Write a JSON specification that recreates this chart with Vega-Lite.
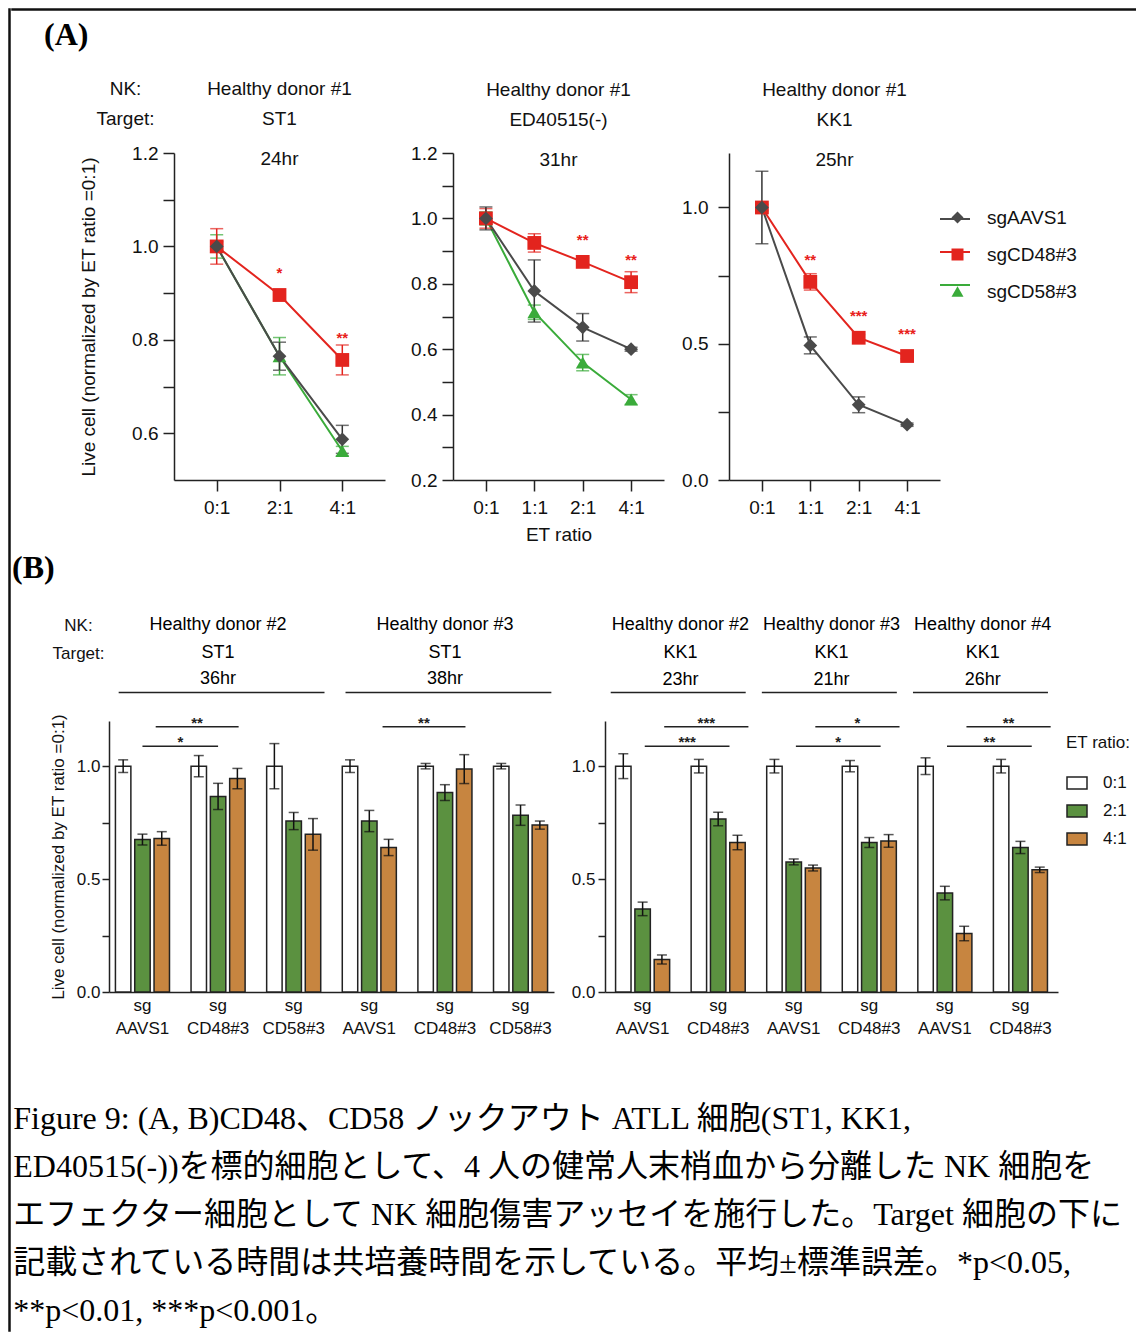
{
  "$schema": "https://vega.github.io/schema/vega-lite/v6.json",
  "padding": {"left": 8, "top": 8, "right": 0, "bottom": 0},
  "background": "white",
  "config": {
    "font": "Liberation Sans",
    "view": {"stroke": null},
    "axis": {"grid": false, "domainColor": "#222", "domainWidth": 1.5, "tickColor": "#222", "tickWidth": 1.5, "labelColor": "#111", "titleColor": "#111", "titleFontWeight": "normal", "labelFont": "Liberation Sans", "titleFont": "Liberation Sans"},
    "title": {"font": "Liberation Sans", "fontWeight": "normal", "color": "#111", "subtitleColor": "#111", "subtitleFont": "Liberation Sans"},
    "legend": {"labelFont": "Liberation Sans", "titleFont": "Liberation Sans", "labelColor": "#111", "titleColor": "#111"}
  },
  "datasets": {
    "lineA": [
      {"p": "A1", "c": "sgCD58#3", "r": "0:1", "m": 1.0, "e": 0.025},
      {"p": "A1", "c": "sgCD58#3", "r": "2:1", "m": 0.765, "e": 0.04},
      {"p": "A1", "c": "sgCD58#3", "r": "4:1", "m": 0.562, "e": 0.01},
      {"p": "A1", "c": "sgCD48#3", "r": "0:1", "m": 1.0, "e": 0.038},
      {"p": "A1", "c": "sgCD48#3", "r": "2:1", "m": 0.896, "e": 0.012, "s": "*"},
      {"p": "A1", "c": "sgCD48#3", "r": "4:1", "m": 0.757, "e": 0.032, "s": "**"},
      {"p": "A1", "c": "sgAAVS1", "r": "0:1", "m": 1.0, "e": 0.01},
      {"p": "A1", "c": "sgAAVS1", "r": "2:1", "m": 0.765, "e": 0.03},
      {"p": "A1", "c": "sgAAVS1", "r": "4:1", "m": 0.587, "e": 0.03},
      {"p": "A2", "c": "sgCD58#3", "r": "0:1", "m": 1.0, "e": 0.02},
      {"p": "A2", "c": "sgCD58#3", "r": "1:1", "m": 0.713, "e": 0.022},
      {"p": "A2", "c": "sgCD58#3", "r": "2:1", "m": 0.559, "e": 0.025},
      {"p": "A2", "c": "sgCD58#3", "r": "4:1", "m": 0.446, "e": 0.015},
      {"p": "A2", "c": "sgCD48#3", "r": "0:1", "m": 1.0, "e": 0.03},
      {"p": "A2", "c": "sgCD48#3", "r": "1:1", "m": 0.925, "e": 0.028},
      {"p": "A2", "c": "sgCD48#3", "r": "2:1", "m": 0.867, "e": 0.012, "s": "**"},
      {"p": "A2", "c": "sgCD48#3", "r": "4:1", "m": 0.805, "e": 0.032, "s": "**"},
      {"p": "A2", "c": "sgAAVS1", "r": "0:1", "m": 1.0, "e": 0.035},
      {"p": "A2", "c": "sgAAVS1", "r": "1:1", "m": 0.778, "e": 0.095},
      {"p": "A2", "c": "sgAAVS1", "r": "2:1", "m": 0.667, "e": 0.042},
      {"p": "A2", "c": "sgAAVS1", "r": "4:1", "m": 0.6, "e": 0.006},
      {"p": "A3", "c": "sgCD48#3", "r": "0:1", "m": 1.0, "e": 0.012},
      {"p": "A3", "c": "sgCD48#3", "r": "1:1", "m": 0.727, "e": 0.03, "s": "**"},
      {"p": "A3", "c": "sgCD48#3", "r": "2:1", "m": 0.522, "e": 0.012, "s": "***"},
      {"p": "A3", "c": "sgCD48#3", "r": "4:1", "m": 0.455, "e": 0.01, "s": "***"},
      {"p": "A3", "c": "sgAAVS1", "r": "0:1", "m": 1.0, "e": 0.133},
      {"p": "A3", "c": "sgAAVS1", "r": "1:1", "m": 0.494, "e": 0.031},
      {"p": "A3", "c": "sgAAVS1", "r": "2:1", "m": 0.276, "e": 0.029},
      {"p": "A3", "c": "sgAAVS1", "r": "4:1", "m": 0.203, "e": 0.006}
    ],
    "barB": [
      {"p": "B1", "k": "2|AAVS1", "r": "0:1", "m": 1.0, "e": 0.028},
      {"p": "B1", "k": "2|AAVS1", "r": "2:1", "m": 0.675, "e": 0.024},
      {"p": "B1", "k": "2|AAVS1", "r": "4:1", "m": 0.68, "e": 0.03},
      {"p": "B1", "k": "2|CD48#3", "r": "0:1", "m": 1.0, "e": 0.047},
      {"p": "B1", "k": "2|CD48#3", "r": "2:1", "m": 0.866, "e": 0.058},
      {"p": "B1", "k": "2|CD48#3", "r": "4:1", "m": 0.945, "e": 0.045},
      {"p": "B1", "k": "2|CD58#3", "r": "0:1", "m": 1.0, "e": 0.1},
      {"p": "B1", "k": "2|CD58#3", "r": "2:1", "m": 0.757, "e": 0.038},
      {"p": "B1", "k": "2|CD58#3", "r": "4:1", "m": 0.698, "e": 0.07},
      {"p": "B1", "k": "3|AAVS1", "r": "0:1", "m": 1.0, "e": 0.028},
      {"p": "B1", "k": "3|AAVS1", "r": "2:1", "m": 0.757, "e": 0.047},
      {"p": "B1", "k": "3|AAVS1", "r": "4:1", "m": 0.64, "e": 0.036},
      {"p": "B1", "k": "3|CD48#3", "r": "0:1", "m": 1.0, "e": 0.012},
      {"p": "B1", "k": "3|CD48#3", "r": "2:1", "m": 0.883, "e": 0.035},
      {"p": "B1", "k": "3|CD48#3", "r": "4:1", "m": 0.987, "e": 0.064},
      {"p": "B1", "k": "3|CD58#3", "r": "0:1", "m": 1.0, "e": 0.012},
      {"p": "B1", "k": "3|CD58#3", "r": "2:1", "m": 0.783, "e": 0.045},
      {"p": "B1", "k": "3|CD58#3", "r": "4:1", "m": 0.739, "e": 0.018},
      {"p": "B2", "k": "2|AAVS1", "r": "0:1", "m": 1.0, "e": 0.055},
      {"p": "B2", "k": "2|AAVS1", "r": "2:1", "m": 0.368, "e": 0.03},
      {"p": "B2", "k": "2|AAVS1", "r": "4:1", "m": 0.144, "e": 0.02},
      {"p": "B2", "k": "2|CD48#3", "r": "0:1", "m": 1.0, "e": 0.03},
      {"p": "B2", "k": "2|CD48#3", "r": "2:1", "m": 0.766, "e": 0.03},
      {"p": "B2", "k": "2|CD48#3", "r": "4:1", "m": 0.662, "e": 0.032},
      {"p": "B2", "k": "3|AAVS1", "r": "0:1", "m": 1.0, "e": 0.03},
      {"p": "B2", "k": "3|AAVS1", "r": "2:1", "m": 0.576, "e": 0.013},
      {"p": "B2", "k": "3|AAVS1", "r": "4:1", "m": 0.549, "e": 0.013},
      {"p": "B2", "k": "3|CD48#3", "r": "0:1", "m": 1.0, "e": 0.025},
      {"p": "B2", "k": "3|CD48#3", "r": "2:1", "m": 0.662, "e": 0.022},
      {"p": "B2", "k": "3|CD48#3", "r": "4:1", "m": 0.669, "e": 0.028},
      {"p": "B2", "k": "4|AAVS1", "r": "0:1", "m": 1.0, "e": 0.037},
      {"p": "B2", "k": "4|AAVS1", "r": "2:1", "m": 0.438, "e": 0.03},
      {"p": "B2", "k": "4|AAVS1", "r": "4:1", "m": 0.259, "e": 0.032},
      {"p": "B2", "k": "4|CD48#3", "r": "0:1", "m": 1.0, "e": 0.03},
      {"p": "B2", "k": "4|CD48#3", "r": "2:1", "m": 0.64, "e": 0.027},
      {"p": "B2", "k": "4|CD48#3", "r": "4:1", "m": 0.541, "e": 0.012}
    ],
    "headB": [
      {"p": "B1", "first": "2|AAVS1", "mid": "2|CD48#3", "last": "2|CD58#3", "donor": "Healthy donor #2", "target": "ST1", "hr": "36hr"},
      {"p": "B1", "first": "3|AAVS1", "mid": "3|CD48#3", "last": "3|CD58#3", "donor": "Healthy donor #3", "target": "ST1", "hr": "38hr"},
      {"p": "B2", "first": "2|AAVS1", "last": "2|CD48#3", "donor": "Healthy donor #2", "target": "KK1", "hr": "23hr"},
      {"p": "B2", "first": "3|AAVS1", "last": "3|CD48#3", "donor": "Healthy donor #3", "target": "KK1", "hr": "21hr"},
      {"p": "B2", "first": "4|AAVS1", "last": "4|CD48#3", "donor": "Healthy donor #4", "target": "KK1", "hr": "26hr"}
    ],
    "sigB": [
      {"p": "B1", "r": "2:1", "g1": "2|AAVS1", "g2": "2|CD48#3", "s": "*"},
      {"p": "B1", "r": "4:1", "g1": "2|AAVS1", "g2": "2|CD48#3", "s": "**"},
      {"p": "B1", "r": "4:1", "g1": "3|AAVS1", "g2": "3|CD48#3", "s": "**"},
      {"p": "B2", "r": "2:1", "g1": "2|AAVS1", "g2": "2|CD48#3", "s": "***"},
      {"p": "B2", "r": "4:1", "g1": "2|AAVS1", "g2": "2|CD48#3", "s": "***"},
      {"p": "B2", "r": "2:1", "g1": "3|AAVS1", "g2": "3|CD48#3", "s": "*"},
      {"p": "B2", "r": "4:1", "g1": "3|AAVS1", "g2": "3|CD48#3", "s": "*"},
      {"p": "B2", "r": "2:1", "g1": "4|AAVS1", "g2": "4|CD48#3", "s": "**"},
      {"p": "B2", "r": "4:1", "g1": "4|AAVS1", "g2": "4|CD48#3", "s": "**"}
    ]
  },
  "spacing": 0,
  "resolve": {"scale": {"color": "independent", "shape": "independent", "fill": "independent", "stroke": "independent"}},
  "hconcat": [
    {"width": 1, "height": 1322, "data": {"values": []}, "mark": {"type": "rule"}, "encoding": {}, "view": {"stroke": "#111", "strokeWidth": 1.5}},
    {
      "spacing": 8,
      "resolve": {"scale": {"color": "independent", "shape": "independent", "fill": "independent", "stroke": "independent"}},
      "title": {
        "text": [
          "Figure 9: (A, B)CD48、CD58 ノックアウト ATLL 細胞(ST1, KK1,",
          "ED40515(-))を標的細胞として、4 人の健常人末梢血から分離した NK 細胞を",
          "エフェクター細胞として NK 細胞傷害アッセイを施行した。Target 細胞の下に",
          "記載されている時間は共培養時間を示している。平均±標準誤差。*p<0.05,",
          "**p<0.01, ***p<0.001。"
        ],
        "orient": "bottom", "anchor": "start", "frame": "bounds",
        "font": "'Liberation Serif', 'Noto Sans CJK JP', serif", "fontSize": 32, "lineHeight": 48,
        "fontWeight": "normal", "color": "#000", "offset": 68, "dx": 2
      },
      "vconcat": [
        {"width": 1130, "height": 1, "data": {"values": []}, "mark": {"type": "rule"}, "encoding": {}, "view": {"stroke": "#111", "strokeWidth": 1.5}},
        {
          "spacing": 25,
          "title": {"text": "(A)", "anchor": "start", "frame": "bounds", "dx": 32, "offset": 27, "font": "Liberation Serif", "fontSize": 32, "fontWeight": "bold", "color": "#000"},
          "resolve": {"scale": {"color": "independent", "shape": "independent", "fill": "independent", "stroke": "independent"}},
          "hconcat": [
            {"width": 42, "height": 1, "data": {"values": []}, "mark": {"type": "rule"}, "encoding": {}},
            {
              "width": 211, "height": 327,
              "data": {"name": "lineA"},
              "transform": [{"filter": "datum.p === 'A1'"}],
              "title": {"text": ["Healthy donor #1", "ST1"], "subtitle": "24hr", "fontSize": 19, "subtitleFontSize": 19, "lineHeight": 30, "subtitlePadding": 21, "offset": -90, "frame": "group"},
              "encoding": {
                "x": {"field": "r", "type": "ordinal", "scale": {"type": "point", "padding": 0.68, "domain": ["0:1", "2:1", "4:1"]},
                  "axis": {"title": ["NK:", "Target:"], "titleX": -49, "titleY": -401, "titleAlign": "center", "titleBaseline": "top", "titleAngle": 0, "titleLineHeight": 30, "titleFontSize": 19, "labelAngle": 0, "labelFontSize": 19, "tickSize": 11, "labelPadding": 7}},
                "y": {"field": "m", "type": "quantitative", "scale": {"domain": [0.5, 1.2], "nice": false, "zero": false},
                  "axis": {"title": "Live cell (normalized by ET ratio =0:1)", "titleFontSize": 19, "titlePadding": 33, "values": [0.6, 0.7, 0.8, 0.9, 1.0, 1.1, 1.2], "format": ".1f", "labelExpr": "round(datum.value*10) % 2 === 0 ? datum.label : ''", "labelFontSize": 19, "tickSize": 11, "labelPadding": 5}}
              },
              "layer": [
                {"mark": {"type": "line", "strokeWidth": 2}, "encoding": {"stroke": {"field": "c", "type": "nominal", "scale": {"domain": ["sgAAVS1", "sgCD48#3", "sgCD58#3"], "range": ["#4a4a4a", "#e3241e", "#3aab3a"]}, "legend": null}}},
                {"mark": {"type": "errorbar", "ticks": true, "size": 13, "thickness": 1.5}, "encoding": {"yError": {"field": "e"}, "color": {"field": "c", "type": "nominal", "scale": {"domain": ["sgAAVS1", "sgCD48#3", "sgCD58#3"], "range": ["#333333", "#e3241e", "#3aab3a"]}, "legend": null}}},
                {"mark": {"type": "point", "filled": true, "opacity": 1, "size": 190}, "encoding": {
                  "fill": {"field": "c", "type": "nominal", "scale": {"domain": ["sgAAVS1", "sgCD48#3", "sgCD58#3"], "range": ["#4a4a4a", "#e3241e", "#3aab3a"]}, "legend": null},
                  "shape": {"field": "c", "type": "nominal", "scale": {"domain": ["sgAAVS1", "sgCD48#3", "sgCD58#3"], "range": ["diamond", "square", "triangle-up"]}, "legend": null}}},
                {"transform": [{"filter": "datum.s"}], "mark": {"type": "text", "color": "#e8201a", "fontSize": 15, "fontWeight": "bold", "dy": -17, "baseline": "alphabetic"}, "encoding": {"text": {"field": "s"}}}
              ]
            },
            {
              "spacing": 17,
              "resolve": {"scale": {"color": "independent", "shape": "independent", "fill": "independent", "stroke": "independent"}},
              "hconcat": [
                {
                  "width": 211, "height": 327,
                  "data": {"name": "lineA"},
                  "transform": [{"filter": "datum.p === 'A2'"}],
                  "title": {"text": ["Healthy donor #1", "ED40515(-)"], "subtitle": "31hr", "fontSize": 19, "subtitleFontSize": 19, "lineHeight": 30, "subtitlePadding": 21, "offset": -26, "frame": "group"},
                  "encoding": {
                    "x": {"field": "r", "type": "ordinal", "scale": {"type": "point", "padding": 0.68, "domain": ["0:1", "1:1", "2:1", "4:1"]},
                      "axis": {"title": "ET ratio", "titleFontSize": 19, "titlePadding": 8, "labelAngle": 0, "labelFontSize": 19, "tickSize": 11, "labelPadding": 7}},
                    "y": {"field": "m", "type": "quantitative", "scale": {"domain": [0.2, 1.2], "nice": false, "zero": false},
                      "axis": {"title": null, "values": [0.2, 0.3, 0.4, 0.5, 0.6, 0.7, 0.8, 0.9, 1.0, 1.1, 1.2], "format": ".1f", "labelExpr": "round(datum.value*10) % 2 === 0 ? datum.label : ''", "labelFontSize": 19, "tickSize": 11, "labelPadding": 5}}
                  },
                  "layer": [
                    {"mark": {"type": "line", "strokeWidth": 2}, "encoding": {"stroke": {"field": "c", "type": "nominal", "scale": {"domain": ["sgAAVS1", "sgCD48#3", "sgCD58#3"], "range": ["#4a4a4a", "#e3241e", "#3aab3a"]}, "legend": null}}},
                    {"mark": {"type": "errorbar", "ticks": true, "size": 13, "thickness": 1.5}, "encoding": {"yError": {"field": "e"}, "color": {"field": "c", "type": "nominal", "scale": {"domain": ["sgAAVS1", "sgCD48#3", "sgCD58#3"], "range": ["#333333", "#e3241e", "#3aab3a"]}, "legend": null}}},
                    {"mark": {"type": "point", "filled": true, "opacity": 1, "size": 190}, "encoding": {
                      "fill": {"field": "c", "type": "nominal", "scale": {"domain": ["sgAAVS1", "sgCD48#3", "sgCD58#3"], "range": ["#4a4a4a", "#e3241e", "#3aab3a"]}, "legend": null},
                      "shape": {"field": "c", "type": "nominal", "scale": {"domain": ["sgAAVS1", "sgCD48#3", "sgCD58#3"], "range": ["diamond", "square", "triangle-up"]}, "legend": null}}},
                    {"transform": [{"filter": "datum.s"}], "mark": {"type": "text", "color": "#e8201a", "fontSize": 15, "fontWeight": "bold", "dy": -17, "baseline": "alphabetic"}, "encoding": {"text": {"field": "s"}}}
                  ]
                },
                {
                  "width": 211, "height": 327,
                  "data": {"name": "lineA"},
                  "transform": [{"filter": "datum.p === 'A3'"}],
                  "title": {"text": ["Healthy donor #1", "KK1"], "subtitle": "25hr", "fontSize": 19, "subtitleFontSize": 19, "lineHeight": 30, "subtitlePadding": 21, "offset": -17, "frame": "group"},
                  "encoding": {
                    "x": {"field": "r", "type": "ordinal", "scale": {"type": "point", "padding": 0.68, "domain": ["0:1", "1:1", "2:1", "4:1"]},
                      "axis": {"title": null, "labelAngle": 0, "labelFontSize": 19, "tickSize": 11, "labelPadding": 7}},
                    "y": {"field": "m", "type": "quantitative", "scale": {"domain": [0, 1.2], "nice": false, "zero": false},
                      "axis": {"title": null, "values": [0, 0.25, 0.5, 0.75, 1.0], "format": ".1f", "labelExpr": "(datum.value*4) % 2 === 0 ? datum.label : ''", "labelFontSize": 19, "tickSize": 11, "labelPadding": 10}}
                  },
                  "layer": [
                    {"mark": {"type": "line", "strokeWidth": 2}, "encoding": {"stroke": {"field": "c", "type": "nominal", "scale": {"domain": ["sgCD48#3", "sgAAVS1", "sgCD58#3"], "range": ["#e3241e", "#4a4a4a", "#3aab3a"]},
                      "legend": {"orient": "none", "legendX": 210, "legendY": 50, "title": null, "padding": 0, "values": ["sgAAVS1", "sgCD48#3", "sgCD58#3"], "symbolType": "stroke", "symbolSize": 900, "symbolStrokeWidth": 2, "labelFontSize": 19, "labelOffset": 11, "labelOpacity": 0, "rowPadding": 7}}}},
                    {"mark": {"type": "errorbar", "ticks": true, "size": 13, "thickness": 1.5}, "encoding": {"yError": {"field": "e"}, "color": {"field": "c", "type": "nominal", "scale": {"domain": ["sgCD58#3", "sgCD48#3", "sgAAVS1"], "range": ["#3aab3a", "#e3241e", "#333333"]}, "legend": null}}},
                    {"mark": {"type": "point", "filled": true, "opacity": 1, "size": 190}, "encoding": {
                      "fill": {"field": "c", "type": "nominal", "scale": {"domain": ["sgAAVS1", "sgCD48#3", "sgCD58#3"], "range": ["#4a4a4a", "#e3241e", "#3aab3a"]},
                        "legend": {"orient": "none", "legendX": 219, "legendY": 55, "title": null, "padding": 0, "labelFontSize": 19, "labelOffset": 20, "symbolSize": 144, "rowPadding": 17}},
                      "shape": {"field": "c", "type": "nominal", "scale": {"domain": ["sgAAVS1", "sgCD48#3", "sgCD58#3"], "range": ["diamond", "square", "triangle-up"]},
                        "legend": {"orient": "none", "legendX": 219, "legendY": 55, "title": null, "padding": 0, "labelFontSize": 19, "labelOffset": 20, "symbolSize": 144, "rowPadding": 17}}}},
                    {"transform": [{"filter": "datum.s"}], "mark": {"type": "text", "color": "#e8201a", "fontSize": 15, "fontWeight": "bold", "dy": -17, "baseline": "alphabetic"}, "encoding": {"text": {"field": "s"}}}
                  ]
                }
              ]
            }
          ]
        },
        {
          "spacing": 17,
          "title": {"text": "(B)", "anchor": "start", "frame": "bounds", "dx": 0, "offset": 31, "font": "Liberation Serif", "fontSize": 32, "fontWeight": "bold", "color": "#000"},
          "resolve": {"scale": {"fill": "independent"}},
          "hconcat": [
            {"width": 20, "height": 1, "data": {"values": []}, "mark": {"type": "rule"}, "encoding": {}},
            {
              "width": 445, "height": 271,
              "layer": [
                {"data": {"name": "barB"}, "transform": [{"filter": "datum.p === 'B1'"}],
                  "mark": {"type": "bar", "stroke": "#222", "strokeWidth": 1.5},
                  "encoding": {
                    "x": {"field": "k", "type": "nominal", "scale": {"domain": ["2|AAVS1", "2|CD48#3", "2|CD58#3", "3|AAVS1", "3|CD48#3", "3|CD58#3"], "paddingInner": 0.285, "paddingOuter": 0.085},
                      "axis": {"title": ["NK:", "Target:"], "titleX": -31, "titleY": -375, "titleAlign": "center", "titleBaseline": "top", "titleAngle": 0, "titleLineHeight": 28, "titleFontSize": 17, "ticks": false, "labelAngle": 0, "labelFontSize": 17, "labelPadding": 5, "labelLineHeight": 23, "labelExpr": "['sg', split(datum.value, '|')[1]]"}},
                    "xOffset": {"field": "r", "type": "nominal", "scale": {"domain": ["0:1", "2:1", "4:1"], "paddingInner": 0.2, "paddingOuter": 0}},
                    "y": {"field": "m", "type": "quantitative", "scale": {"domain": [0, 1.2], "nice": false},
                      "axis": {"title": "Live cell (normalized by ET ratio =0:1)", "titleFontSize": 17, "titlePadding": 9, "values": [0, 0.25, 0.5, 0.75, 1.0], "format": ".1f", "labelExpr": "(datum.value*4) % 2 === 0 ? datum.label : ''", "labelFontSize": 17, "tickSize": 7, "labelPadding": 2}},
                    "fill": {"field": "r", "type": "nominal", "scale": {"domain": ["0:1", "2:1", "4:1"], "range": ["#ffffff", "#5b9140", "#c78540"]}, "legend": null}
                  }},
                {"data": {"name": "barB"}, "transform": [{"filter": "datum.p === 'B1'"}],
                  "mark": {"type": "errorbar", "ticks": true, "size": 10, "thickness": 1.5, "color": "#111"},
                  "encoding": {
                    "x": {"field": "k", "type": "nominal", "scale": {"domain": ["2|AAVS1", "2|CD48#3", "2|CD58#3", "3|AAVS1", "3|CD48#3", "3|CD58#3"], "paddingInner": 0.285, "paddingOuter": 0.085}},
                    "xOffset": {"field": "r", "type": "nominal", "scale": {"domain": ["0:1", "2:1", "4:1"], "paddingInner": 0.2, "paddingOuter": 0}},
                    "y": {"field": "m", "type": "quantitative", "scale": {"domain": [0, 1.2], "nice": false}, "axis": {"title": "Live cell (normalized by ET ratio =0:1)"}},
                    "yError": {"field": "e"}
                  }},
                {"data": {"name": "headB"}, "transform": [{"filter": "datum.p === 'B1'"}],
                  "layer": [
                    {"mark": {"type": "text", "fontSize": 18, "baseline": "middle"}, "encoding": {"x": {"field": "mid", "type": "nominal", "scale": {"domain": ["2|AAVS1", "2|CD48#3", "2|CD58#3", "3|AAVS1", "3|CD48#3", "3|CD58#3"], "paddingInner": 0.285, "paddingOuter": 0.085}}, "y": {"datum": 1.623, "type": "quantitative", "scale": {"domain": [0, 1.2], "nice": false}}, "text": {"field": "donor"}}},
                    {"mark": {"type": "text", "fontSize": 18, "baseline": "middle"}, "encoding": {"x": {"field": "mid", "type": "nominal", "scale": {"domain": ["2|AAVS1", "2|CD48#3", "2|CD58#3", "3|AAVS1", "3|CD48#3", "3|CD58#3"], "paddingInner": 0.285, "paddingOuter": 0.085}}, "y": {"datum": 1.499, "type": "quantitative", "scale": {"domain": [0, 1.2], "nice": false}}, "text": {"field": "target"}}},
                    {"mark": {"type": "text", "fontSize": 18, "baseline": "middle"}, "encoding": {"x": {"field": "mid", "type": "nominal", "scale": {"domain": ["2|AAVS1", "2|CD48#3", "2|CD58#3", "3|AAVS1", "3|CD48#3", "3|CD58#3"], "paddingInner": 0.285, "paddingOuter": 0.085}}, "y": {"datum": 1.384, "type": "quantitative", "scale": {"domain": [0, 1.2], "nice": false}}, "text": {"field": "hr"}}},
                    {"mark": {"type": "rule", "strokeWidth": 1.5, "color": "#222"}, "encoding": {"x": {"field": "first", "type": "nominal", "bandPosition": 0.06, "scale": {"domain": ["2|AAVS1", "2|CD48#3", "2|CD58#3", "3|AAVS1", "3|CD48#3", "3|CD58#3"], "paddingInner": 0.285, "paddingOuter": 0.085}}, "x2": {"field": "last", "bandPosition": 1.07}, "y": {"datum": 1.326, "type": "quantitative", "scale": {"domain": [0, 1.2], "nice": false}}}}
                  ]},
                {"data": {"name": "sigB"}, "transform": [{"filter": "datum.p === 'B1' && datum.r === '2:1'"}],
                  "layer": [
                    {"mark": {"type": "rule", "strokeWidth": 1.5, "color": "#222"}, "encoding": {"x": {"field": "g1", "type": "nominal", "bandPosition": 0.5, "scale": {"domain": ["2|AAVS1", "2|CD48#3", "2|CD58#3", "3|AAVS1", "3|CD48#3", "3|CD58#3"], "paddingInner": 0.285, "paddingOuter": 0.085}}, "x2": {"field": "g2", "bandPosition": 0.5}, "y": {"datum": 1.088, "type": "quantitative", "scale": {"domain": [0, 1.2], "nice": false}}}},
                    {"mark": {"type": "text", "fontSize": 15, "fontWeight": "bold", "baseline": "alphabetic", "dy": 1, "color": "#222"}, "encoding": {"x": {"field": "g1", "type": "nominal", "bandPosition": 1.2, "scale": {"domain": ["2|AAVS1", "2|CD48#3", "2|CD58#3", "3|AAVS1", "3|CD48#3", "3|CD58#3"], "paddingInner": 0.285, "paddingOuter": 0.085}}, "y": {"datum": 1.088, "type": "quantitative", "scale": {"domain": [0, 1.2], "nice": false}}, "text": {"field": "s"}}}
                  ]},
                {"data": {"name": "sigB"}, "transform": [{"filter": "datum.p === 'B1' && datum.r === '4:1'"}],
                  "layer": [
                    {"mark": {"type": "rule", "strokeWidth": 1.5, "color": "#222"}, "encoding": {"x": {"field": "g1", "type": "nominal", "bandPosition": 0.745, "scale": {"domain": ["2|AAVS1", "2|CD48#3", "2|CD58#3", "3|AAVS1", "3|CD48#3", "3|CD58#3"], "paddingInner": 0.285, "paddingOuter": 0.085}}, "x2": {"field": "g2", "bandPosition": 0.88}, "y": {"datum": 1.174, "type": "quantitative", "scale": {"domain": [0, 1.2], "nice": false}}}},
                    {"mark": {"type": "text", "fontSize": 15, "fontWeight": "bold", "baseline": "alphabetic", "dy": 1, "color": "#222"}, "encoding": {"x": {"field": "g1", "type": "nominal", "bandPosition": 1.51, "scale": {"domain": ["2|AAVS1", "2|CD48#3", "2|CD58#3", "3|AAVS1", "3|CD48#3", "3|CD58#3"], "paddingInner": 0.285, "paddingOuter": 0.085}}, "y": {"datum": 1.174, "type": "quantitative", "scale": {"domain": [0, 1.2], "nice": false}}, "text": {"field": "s"}}}
                  ]}
              ]
            },
            {
              "width": 453, "height": 271,
              "layer": [
                {"data": {"name": "barB"}, "transform": [{"filter": "datum.p === 'B2'"}],
                  "mark": {"type": "bar", "stroke": "#222", "strokeWidth": 1.5},
                  "encoding": {
                    "x": {"field": "k", "type": "nominal", "scale": {"domain": ["2|AAVS1", "2|CD48#3", "3|AAVS1", "3|CD48#3", "4|AAVS1", "4|CD48#3"], "paddingInner": 0.285, "paddingOuter": 0.14},
                      "axis": {"title": null, "ticks": false, "labelAngle": 0, "labelFontSize": 17, "labelPadding": 5, "labelLineHeight": 23, "labelExpr": "['sg', split(datum.value, '|')[1]]"}},
                    "xOffset": {"field": "r", "type": "nominal", "scale": {"domain": ["0:1", "2:1", "4:1"], "paddingInner": 0.2, "paddingOuter": 0}},
                    "y": {"field": "m", "type": "quantitative", "scale": {"domain": [0, 1.2], "nice": false},
                      "axis": {"title": null, "values": [0, 0.25, 0.5, 0.75, 1.0], "format": ".1f", "labelExpr": "(datum.value*4) % 2 === 0 ? datum.label : ''", "labelFontSize": 17, "tickSize": 7, "labelPadding": 3}},
                    "fill": {"field": "r", "type": "nominal", "scale": {"domain": ["0:1", "2:1", "4:1"], "range": ["#ffffff", "#5b9140", "#c78540"]},
                      "legend": {"orient": "none", "legendX": 461, "legendY": 14, "title": "ET ratio:", "titleFontSize": 17, "titleFontWeight": "normal", "titlePadding": 20, "labelFontSize": 17, "labelOffset": 15, "symbolType": "M-1,-0.6H1V0.6H-1Z", "symbolSize": 400, "symbolStrokeColor": "#222", "symbolStrokeWidth": 1.5, "rowPadding": 8, "padding": 0}}
                  }},
                {"data": {"name": "barB"}, "transform": [{"filter": "datum.p === 'B2'"}],
                  "mark": {"type": "errorbar", "ticks": true, "size": 10, "thickness": 1.5, "color": "#111"},
                  "encoding": {
                    "x": {"field": "k", "type": "nominal", "scale": {"domain": ["2|AAVS1", "2|CD48#3", "3|AAVS1", "3|CD48#3", "4|AAVS1", "4|CD48#3"], "paddingInner": 0.285, "paddingOuter": 0.14}},
                    "xOffset": {"field": "r", "type": "nominal", "scale": {"domain": ["0:1", "2:1", "4:1"], "paddingInner": 0.2, "paddingOuter": 0}},
                    "y": {"field": "m", "type": "quantitative", "scale": {"domain": [0, 1.2], "nice": false}},
                    "yError": {"field": "e"}
                  }},
                {"data": {"name": "headB"}, "transform": [{"filter": "datum.p === 'B2'"}],
                  "layer": [
                    {"mark": {"type": "text", "fontSize": 18, "baseline": "middle"}, "encoding": {"x": {"field": "first", "type": "nominal", "bandPosition": 1.2, "scale": {"domain": ["2|AAVS1", "2|CD48#3", "3|AAVS1", "3|CD48#3", "4|AAVS1", "4|CD48#3"], "paddingInner": 0.285, "paddingOuter": 0.14}}, "y": {"datum": 1.623, "type": "quantitative", "scale": {"domain": [0, 1.2], "nice": false}}, "text": {"field": "donor"}}},
                    {"mark": {"type": "text", "fontSize": 18, "baseline": "middle"}, "encoding": {"x": {"field": "first", "type": "nominal", "bandPosition": 1.2, "scale": {"domain": ["2|AAVS1", "2|CD48#3", "3|AAVS1", "3|CD48#3", "4|AAVS1", "4|CD48#3"], "paddingInner": 0.285, "paddingOuter": 0.14}}, "y": {"datum": 1.499, "type": "quantitative", "scale": {"domain": [0, 1.2], "nice": false}}, "text": {"field": "target"}}},
                    {"mark": {"type": "text", "fontSize": 18, "baseline": "middle"}, "encoding": {"x": {"field": "first", "type": "nominal", "bandPosition": 1.2, "scale": {"domain": ["2|AAVS1", "2|CD48#3", "3|AAVS1", "3|CD48#3", "4|AAVS1", "4|CD48#3"], "paddingInner": 0.285, "paddingOuter": 0.14}}, "y": {"datum": 1.38, "type": "quantitative", "scale": {"domain": [0, 1.2], "nice": false}}, "text": {"field": "hr"}}},
                    {"mark": {"type": "rule", "strokeWidth": 1.5, "color": "#222"}, "encoding": {"x": {"field": "first", "type": "nominal", "bandPosition": -0.09, "scale": {"domain": ["2|AAVS1", "2|CD48#3", "3|AAVS1", "3|CD48#3", "4|AAVS1", "4|CD48#3"], "paddingInner": 0.285, "paddingOuter": 0.14}}, "x2": {"field": "last", "bandPosition": 1.01}, "y": {"datum": 1.326, "type": "quantitative", "scale": {"domain": [0, 1.2], "nice": false}}}}
                  ]},
                {"data": {"name": "sigB"}, "transform": [{"filter": "datum.p === 'B2' && datum.r === '2:1'"}],
                  "layer": [
                    {"mark": {"type": "rule", "strokeWidth": 1.5, "color": "#222"}, "encoding": {"x": {"field": "g1", "type": "nominal", "bandPosition": 0.54, "scale": {"domain": ["2|AAVS1", "2|CD48#3", "3|AAVS1", "3|CD48#3", "4|AAVS1", "4|CD48#3"], "paddingInner": 0.285, "paddingOuter": 0.14}}, "x2": {"field": "g2", "bandPosition": 0.71}, "y": {"datum": 1.088, "type": "quantitative", "scale": {"domain": [0, 1.2], "nice": false}}}},
                    {"mark": {"type": "text", "fontSize": 15, "fontWeight": "bold", "baseline": "alphabetic", "dy": 1, "color": "#222"}, "encoding": {"x": {"field": "g1", "type": "nominal", "bandPosition": 1.325, "scale": {"domain": ["2|AAVS1", "2|CD48#3", "3|AAVS1", "3|CD48#3", "4|AAVS1", "4|CD48#3"], "paddingInner": 0.285, "paddingOuter": 0.14}}, "y": {"datum": 1.088, "type": "quantitative", "scale": {"domain": [0, 1.2], "nice": false}}, "text": {"field": "s"}}}
                  ]},
                {"data": {"name": "sigB"}, "transform": [{"filter": "datum.p === 'B2' && datum.r === '4:1'"}],
                  "layer": [
                    {"mark": {"type": "rule", "strokeWidth": 1.5, "color": "#222"}, "encoding": {"x": {"field": "g1", "type": "nominal", "bandPosition": 0.9, "scale": {"domain": ["2|AAVS1", "2|CD48#3", "3|AAVS1", "3|CD48#3", "4|AAVS1", "4|CD48#3"], "paddingInner": 0.285, "paddingOuter": 0.14}}, "x2": {"field": "g2", "bandPosition": 1.06}, "y": {"datum": 1.174, "type": "quantitative", "scale": {"domain": [0, 1.2], "nice": false}}}},
                    {"mark": {"type": "text", "fontSize": 15, "fontWeight": "bold", "baseline": "alphabetic", "dy": 1, "color": "#222"}, "encoding": {"x": {"field": "g1", "type": "nominal", "bandPosition": 1.68, "scale": {"domain": ["2|AAVS1", "2|CD48#3", "3|AAVS1", "3|CD48#3", "4|AAVS1", "4|CD48#3"], "paddingInner": 0.285, "paddingOuter": 0.14}}, "y": {"datum": 1.174, "type": "quantitative", "scale": {"domain": [0, 1.2], "nice": false}}, "text": {"field": "s"}}}
                  ]}
              ]
            }
          ]
        }
      ]
    }
  ]
}
